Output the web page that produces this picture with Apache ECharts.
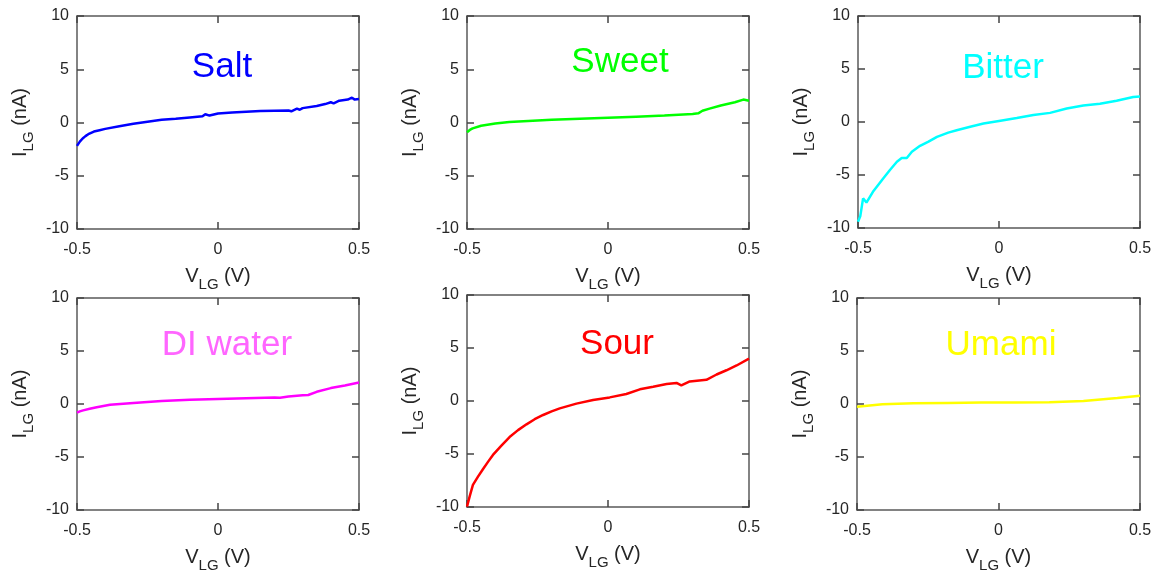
<!DOCTYPE html>
<html>
<head>
<meta charset="utf-8">
<script src="https://cdn.jsdelivr.net/npm/echarts@6/dist/echarts.min.js"></script>
<style>html,body{margin:0;padding:0;background:#fff}#c{width:1159px;height:578px}</style>
</head>
<body>
<div id="c"></div>
<script>
// ---- data ----
const panelTitles = ['Salt', 'Sweet', 'Bitter', 'DI water', 'Sour', 'Umami'];
const xTicks = [-0.5, 0, 0.5];
const yTicks = [-10, -5, 0, 5, 10];

const saltV = [-0.5,-0.49,-0.48,-0.47,-0.46,-0.44,-0.42,-0.40,-0.35,-0.30,-0.25,-0.20,-0.15,-0.10,-0.055,-0.045,-0.03,0.0,0.05,0.10,0.15,0.20,0.25,0.26,0.28,0.29,0.30,0.35,0.38,0.40,0.41,0.43,0.46,0.475,0.485,0.5];
const saltI = [-2.2,-1.8,-1.5,-1.28,-1.1,-0.85,-0.72,-0.6,-0.35,-0.12,0.08,0.25,0.36,0.48,0.58,0.78,0.65,0.85,0.95,1.02,1.07,1.1,1.12,1.05,1.3,1.2,1.35,1.55,1.73,1.9,1.8,2.05,2.15,2.33,2.15,2.2];

const sweetV = [-0.5,-0.49,-0.48,-0.45,-0.40,-0.35,-0.30,-0.20,-0.10,0.0,0.10,0.20,0.30,0.32,0.335,0.36,0.40,0.45,0.48,0.5];
const sweetI = [-0.92,-0.7,-0.55,-0.3,-0.1,0.05,0.12,0.25,0.35,0.45,0.55,0.65,0.8,0.86,1.1,1.3,1.6,1.9,2.15,2.05];

const bitterV = [-0.5,-0.492,-0.482,-0.47,-0.445,-0.41,-0.386,-0.362,-0.345,-0.327,-0.309,-0.28,-0.25,-0.22,-0.18,-0.15,-0.102,-0.055,0.0,0.063,0.122,0.181,0.24,0.299,0.358,0.417,0.476,0.5];
const bitterI = [-9.4,-8.9,-7.2,-7.6,-6.5,-5.3,-4.5,-3.75,-3.4,-3.4,-2.8,-2.25,-1.85,-1.4,-1.0,-0.78,-0.45,-0.15,0.1,0.37,0.67,0.86,1.27,1.55,1.73,2.0,2.36,2.4];

const diV = [-0.5,-0.49,-0.478,-0.455,-0.43,-0.383,-0.30,-0.20,-0.10,0.0,0.10,0.20,0.22,0.25,0.30,0.32,0.35,0.40,0.45,0.5];
const diI = [-0.82,-0.7,-0.6,-0.45,-0.3,-0.07,0.1,0.28,0.4,0.48,0.55,0.62,0.58,0.7,0.82,0.85,1.15,1.5,1.75,2.03];

const sourV = [-0.5,-0.4905,-0.479,-0.461,-0.443,-0.425,-0.408,-0.378,-0.349,-0.319,-0.289,-0.26,-0.23,-0.2,-0.171,-0.112,-0.053,0.006,0.065,0.113,0.16,0.208,0.243,0.26,0.29,0.349,0.385,0.42,0.456,0.5];
const sourI = [-9.97,-9.0,-7.92,-7.14,-6.41,-5.72,-5.09,-4.21,-3.4,-2.75,-2.2,-1.72,-1.32,-0.98,-0.7,-0.25,0.1,0.34,0.66,1.1,1.34,1.6,1.7,1.47,1.85,2.0,2.5,2.9,3.35,4.0];

const umamiV = [-0.5,-0.41,-0.3,-0.18,-0.06,0.06,0.18,0.3,0.42,0.5];
const umamiI = [-0.25,-0.03,0.06,0.1,0.13,0.13,0.16,0.28,0.56,0.78];

// ---- layout / style ----
const seriesV = [saltV, sweetV, bitterV, diV, sourV, umamiV];
const seriesI = [saltI, sweetI, bitterI, diI, sourI, umamiI];
const lineColors = ['#0000FF', '#00FF00', '#00FFFF', '#FF00FF', '#FF0000', '#FFFF00'];
const titleColors = ['#0000FF', '#00FF00', '#00FFFF', '#FF66FF', '#FF0000', '#FFFF00'];
const grids = [
  {left: 77, top: 16, width: 282, height: 213},
  {left: 467, top: 16, width: 282, height: 213},
  {left: 858, top: 16, width: 282, height: 212},
  {left: 77, top: 298, width: 282, height: 212},
  {left: 467, top: 295, width: 282, height: 212},
  {left: 857, top: 298, width: 283, height: 212}
];
const titlePos = [[222, 67], [620, 62], [1003, 68], [227, 345], [617, 344], [1001, 345]];

const FONT = "'Liberation Sans', Arial, sans-serif";
const frameColor = '#5a5a5a';
const labelColor = '#262626';
const nameRich = {
  m: {fontSize: 20, fontFamily: FONT, color: labelColor, verticalAlign: 'top', lineHeight: 21},
  s: {fontSize: 15, fontFamily: FONT, color: labelColor, verticalAlign: 'top', lineHeight: 16, padding: [11, 0, 0, 0]}
};

const xAxes = [], yAxes = [], series = [], graphics = [];
grids.forEach((g, i) => {
  const common = {
    gridIndex: i, type: 'value',
    axisLine: {show: true, onZero: false, lineStyle: {color: frameColor, width: 1.5}},
    axisTick: {show: true, inside: true, length: 7, lineStyle: {color: '#444', width: 1.5}},
    splitLine: {show: false}
  };
  xAxes.push(Object.assign({}, common, {
    position: 'bottom', min: xTicks[0], max: xTicks[xTicks.length - 1], interval: 0.5,
    axisLabel: {fontSize: 16, fontFamily: FONT, color: labelColor, margin: 13, showMinLabel: true, showMaxLabel: true},
    name: '{m|V}{s|LG}{m| (V)}', nameLocation: 'middle', nameGap: 37,
    nameTextStyle: {rich: nameRich}
  }));
  xAxes.push(Object.assign({}, common, {
    position: 'top', min: xTicks[0], max: xTicks[xTicks.length - 1], interval: 0.5,
    axisLabel: {show: false}
  }));
  yAxes.push(Object.assign({}, common, {
    position: 'left', min: yTicks[0], max: yTicks[yTicks.length - 1], interval: 5,
    axisLabel: {fontSize: 16, fontFamily: FONT, color: labelColor, margin: 8, showMinLabel: true, showMaxLabel: true},
    name: '{m|I}{s|LG}{m| (nA)}', nameLocation: 'middle', nameGap: 46,
    nameTextStyle: {rich: nameRich}
  }));
  yAxes.push(Object.assign({}, common, {
    position: 'right', min: yTicks[0], max: yTicks[yTicks.length - 1], interval: 5,
    axisLabel: {show: false}
  }));
  series.push({
    type: 'line', name: panelTitles[i],
    xAxisIndex: 2 * i, yAxisIndex: 2 * i,
    data: seriesV[i].map((v, k) => [v, seriesI[i][k]]),
    showSymbol: false, smooth: false,
    lineStyle: {color: lineColors[i], width: 2.5},
    itemStyle: {color: lineColors[i]},
    animation: false
  });
  graphics.push({
    type: 'text', x: titlePos[i][0], y: titlePos[i][1],
    style: {text: panelTitles[i], fill: titleColors[i], font: '35px ' + FONT, align: 'center', verticalAlign: 'middle'}
  });
});

const chart = echarts.init(document.getElementById('c'), null, {renderer: 'canvas'});
chart.setOption({
  backgroundColor: '#ffffff',
  animation: false,
  grid: grids.map(g => Object.assign({containLabel: false}, g)),
  xAxis: xAxes,
  yAxis: yAxes,
  series: series,
  graphic: graphics
});
</script>
</body>
</html>
